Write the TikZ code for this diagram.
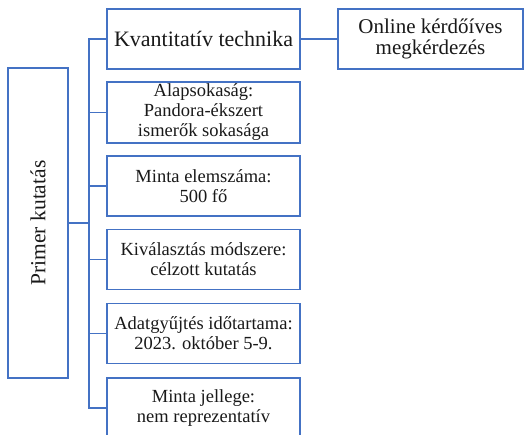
\documentclass[tikz,border=0pt]{standalone}
\usepackage{fontspec}
\setmainfont{Liberation Serif}
\definecolor{frameblue}{HTML}{4472C4}
\begin{document}
\begin{tikzpicture}[x=1pt,y=-1pt,
  every node/.style={inner sep=2pt,text=black!90},
  itembox/.style={draw=frameblue,line width=1.6pt,minimum width=193pt,minimum height=60pt,
    align=center,font=\fontsize{18.5}{20}\selectfont},
  bigbox/.style={draw=frameblue,line width=1.6pt,align=center,font=\fontsize{21}{21}\selectfont},
  link/.style={draw=frameblue,line width=1.6pt}]
  \clip (0,0) rectangle (527,435);
  % root of the tree, text turned upright
  \node[bigbox,minimum width=60pt,minimum height=310pt] (root) at (38,223) {};
  \node[rotate=90,font=\fontsize{21.5}{22}\selectfont] (roottext) at (root.center) {Primer kutatás};
  % branches
  \node[itembox,font=\fontsize{22}{22}\selectfont] (k1) at (203.5,39) {Kvantitatív technika};
  \node[itembox] (k2) at (203.5,112.5) {Alapsokaság:\\Pandora-ékszert\\ismerők sokasága};
  \node[itembox] (k3) at (203.5,186) {Minta elemszáma:\\500 fő};
  \node[itembox] (k4) at (203.5,259.5) {Kiválasztás módszere:\\célzott kutatás};
  \node[itembox] (k5) at (203.5,333.5) {Adatgyűjtés időtartama:\\2023. október 5-9.};
  \node[itembox] (k6) at (203.5,408) {Minta jellege:\\nem reprezentatív};
  % leaf of the first branch
  \node[bigbox,minimum width=185pt,minimum height=60pt,font=\fontsize{21}{21}\selectfont] (online) at (430.5,39) {Online kérdőíves\\megkérdezés};
  % connectors
  \foreach \b in {k1,k2,k3,k4,k5,k6}
    \draw[link] (root.east) -- ++(20,0) |- (\b.west);
  \draw[link] (k1.east) -- (online.west);
\end{tikzpicture}
\end{document}
